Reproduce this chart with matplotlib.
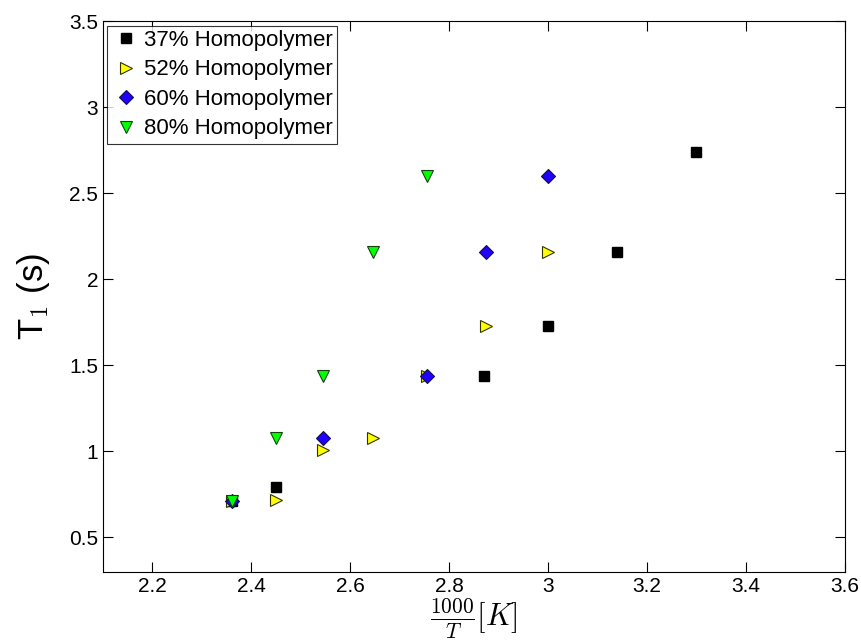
import numpy as np
import matplotlib
matplotlib.use("Agg")
import matplotlib.pyplot as plt

plt.rcParams['font.family'] = ['Liberation Sans', 'DejaVu Sans']
plt.rcParams['mathtext.fontset'] = 'cm'

# 1000/T and T1 values
x37 = [2.36, 2.45, 2.87, 3.00, 3.14, 3.30]
t37 = [0.71, 0.79, 1.44, 1.73, 2.16, 2.74]

x52 = [2.36, 2.45, 2.545, 2.645, 2.755, 2.875, 3.00]
t52 = [0.71, 0.72, 1.01, 1.08, 1.44, 1.73, 2.16]

x60 = [2.36, 2.545, 2.755, 2.875, 3.00]
t60 = [0.71, 1.08, 1.44, 2.16, 2.60]

x80 = [2.36, 2.45, 2.545, 2.645, 2.755]
t80 = [0.71, 1.08, 1.44, 2.16, 2.60]

labels = ['37% Homopolymer', '52% Homopolymer', '60% Homopolymer', '80% Homopolymer']

fig = plt.figure(figsize=(8.62, 6.41), dpi=100)
ax = fig.add_axes([0.1195, 0.108, 0.8605, 0.859])

ax.plot(x37, t37, 's', color='black', mec='black', ms=7, label=labels[0])
ax.plot(x52, t52, '>', color='#ffff00', mec='#333300', mew=0.8, ms=9, label=labels[1])
ax.plot(x60, t60, 'D', color='#2200ff', mec='#111144', mew=0.8, ms=7.5, label=labels[2])
ax.plot(x80, t80, 'v', color='#00ff00', mec='#114411', mew=0.8, ms=9, label=labels[3])

ax.set_xlim(2.1, 3.6)
ax.set_ylim(0.3, 3.5)
ax.set_xticks([2.2, 2.4, 2.6, 2.8, 3.0, 3.2, 3.4, 3.6])
ax.set_xticklabels(['2.2', '2.4', '2.6', '2.8', '3', '3.2', '3.4', '3.6'])
ax.set_yticks([0.5, 1, 1.5, 2, 2.5, 3, 3.5])
ax.set_yticklabels(['0.5', '1', '1.5', '2', '2.5', '3', '3.5'])
ax.tick_params(direction='in', top=True, right=True, labelsize=15, length=7, width=0.8)
for s in ax.spines.values():
    s.set_linewidth(0.8)

ax.set_xlabel(r'$\frac{1000}{T}[K]$', fontsize=22, labelpad=0)
ax.set_ylabel(r'T$_1$ (s)', fontsize=25, labelpad=12)

leg = ax.legend(loc='upper left', fontsize=16, frameon=True, fancybox=False,
                edgecolor='black', handletextpad=0.15, borderpad=0.2,
                labelspacing=0.38, borderaxespad=0.2, handlelength=1.3)
leg.get_frame().set_linewidth(0.8)

plt.savefig('out.png', dpi=100)
